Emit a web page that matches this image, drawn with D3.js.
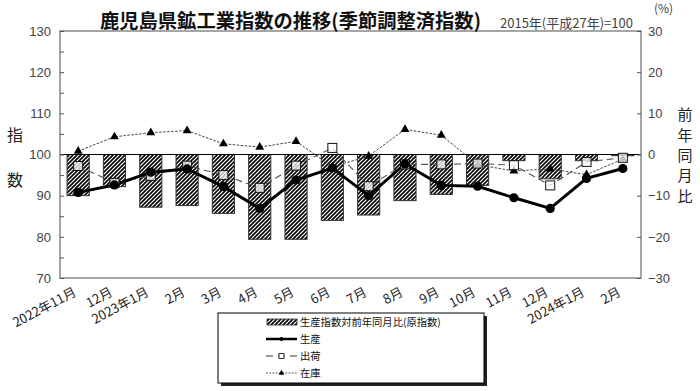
<!DOCTYPE html>
<html><head><meta charset="utf-8">
<script src="https://cdn.jsdelivr.net/npm/d3@7"></script>
<style>
body{margin:0;background:#fff;}
svg text{font-family:"Noto Sans CJK JP","Liberation Sans",sans-serif;}
</style></head>
<body><svg id="c" width="700" height="391"></svg>
<script>
const labels = ["2022年11月","12月","2023年1月","2月","3月","4月","5月","6月","7月","8月","9月","10月","11月","12月","2024年1月","2月"];
const yoy  = [-10.0,-7.8,-12.8,-12.4,-14.3,-20.6,-20.6,-16.0,-14.7,-11.2,-9.7,-7.5,-1.5,-5.9,-1.5,-0.3];
const prod = [90.8,92.6,95.7,96.5,92.2,86.9,93.8,96.7,90.0,97.7,92.5,92.3,89.5,86.9,94.2,96.6];
const ship = [97.2,93.1,94.8,97.3,95.0,91.9,97.3,101.6,92.3,97.6,97.6,97.8,97.4,92.5,98.2,99.2];
const inv  = [100.8,104.3,105.3,105.8,102.6,101.8,103.2,97.0,99.6,106.1,104.7,97.5,96.0,96.5,95.1,98.9];
const leftTicks = [70,80,90,100,110,120,130];
const rightTicks = [-30,-20,-10,0,10,20,30];
const legendNames = ["生産指数対前年同月比(原指数)","生産","出荷","在庫"];

const svg = d3.select("#c");
const L=60,R=641,T=31,B=278;
const idx = labels.map((d,i)=>i);
const x = d3.scaleBand().domain(idx).range([L,R]).paddingInner(0.39).paddingOuter(0.195);
const step = x.step();
const cx = i => L + step*(i+0.5);
const y = d3.scaleLinear().domain([70,130]).range([B,T]);
const y2 = d3.scaleLinear().domain([-30,30]).range([B,T]);

const defs = svg.append("defs");
const pat = defs.append("pattern").attr("id","hatch").attr("patternUnits","userSpaceOnUse")
  .attr("width",4).attr("height",4);
pat.append("rect").attr("width",4).attr("height",4).attr("fill","#fff");
pat.append("path").attr("d","M0,4L4,0M-1,1L1,-1M3,5L5,3").attr("stroke","#000").attr("stroke-width",1.6);

// bars
svg.append("g").selectAll("rect").data(yoy).join("rect")
  .attr("x",(d,i)=>cx(i)-x.bandwidth()/2).attr("width",x.bandwidth())
  .attr("y",d=>Math.min(y2(0),y2(d))).attr("height",d=>Math.abs(y2(d)-y2(0)))
  .attr("fill","url(#hatch)").attr("stroke","#333").attr("stroke-width",1);

// baseline 100
svg.append("line").attr("x1",L).attr("x2",R).attr("y1",y(100)).attr("y2",y(100)).attr("stroke","#000").attr("stroke-width",1.2);

// frame
svg.append("rect").attr("x",L).attr("y",T).attr("width",R-L).attr("height",B-T)
  .attr("fill","none").attr("stroke","#888").attr("stroke-width",1.5);

// left axis
const la = svg.append("g").attr("transform",`translate(${L},0)`)
  .call(d3.axisRight(y).tickValues(d3.range(70,131,5)).tickSize(4).tickFormat(""));
la.select(".domain").remove();
la.selectAll("line").attr("stroke","#555");
svg.append("g").selectAll("text").data(leftTicks).join("text")
  .attr("x",51).attr("y",d=>y(d)).attr("dy","0.36em").attr("text-anchor","end")
  .attr("font-size",13).attr("fill","#444").style("font-family","Liberation Sans, sans-serif").text(d=>d);

// right axis
const ra = svg.append("g").attr("transform",`translate(${R},0)`)
  .call(d3.axisLeft(y2).tickValues(rightTicks).tickSize(4).tickFormat(""));
ra.select(".domain").remove();
ra.selectAll("line").attr("stroke","#555");
svg.append("g").selectAll("text").data(rightTicks).join("text")
  .attr("x",648).attr("y",d=>y2(d)).attr("dy","0.36em").attr("text-anchor","start")
  .attr("font-size",13).attr("fill","#444").style("font-family","Liberation Sans, sans-serif")
  .text(d=>d<0?"\u2212"+(-d):d);

// x labels
svg.append("g").selectAll("text").data(labels).join("text")
  .attr("transform",(d,i)=>`translate(${cx(i)-1},${295}) rotate(-28)`)
  .attr("text-anchor","end").attr("font-size",13).attr("fill","#222").text(d=>d);

// lines
const line = arr => d3.line().x((d,i)=>cx(i)).y(d=>y(d))(arr);
svg.append("path").attr("d",line(inv)).attr("fill","none").attr("stroke","#444").attr("stroke-width",1).attr("stroke-dasharray","2.5,1.5");
svg.append("path").attr("d",line(ship)).attr("fill","none").attr("stroke","#555").attr("stroke-width",1.1).attr("stroke-dasharray","7,4");
svg.append("path").attr("d",line(prod)).attr("fill","none").attr("stroke","#000").attr("stroke-width",3);

const tri = d3.symbol().type(d3.symbolTriangle).size(34);
svg.append("g").selectAll("path").data(inv).join("path")
  .attr("d",tri).attr("transform",(d,i)=>`translate(${cx(i)},${y(d)})`).attr("fill","#000");
svg.append("g").selectAll("rect").data(ship).join("rect")
  .attr("x",(d,i)=>cx(i)-4.5).attr("y",d=>y(d)-4.5).attr("width",9).attr("height",9)
  .attr("fill","#fff").attr("fill-opacity",0.75).attr("stroke","#111").attr("stroke-width",1);
svg.append("g").selectAll("circle").data(prod).join("circle")
  .attr("cx",(d,i)=>cx(i)).attr("cy",d=>y(d)).attr("r",4.6).attr("fill","#000");

// title
svg.append("text").attr("x",100).attr("y",28).attr("font-size",19.3).attr("font-weight","bold").attr("fill","#111")
  .text("鹿児島県鉱工業指数の推移(季節調整済指数)");
svg.append("text").attr("x",500).attr("y",28).attr("font-size",13).attr("fill","#444").text("2015年(平成27年)=100");
svg.append("text").attr("x",654).attr("y",13).attr("font-size",12).attr("fill","#444").text("(%)");

// axis titles
svg.append("g").selectAll("text").data(["指","数"]).join("text")
  .attr("x",15).attr("y",(d,i)=>135+i*45).attr("dy","0.36em").attr("text-anchor","middle")
  .attr("font-size",16).attr("fill","#222").text(d=>d);
svg.append("g").selectAll("text").data("前年同月比".split("")).join("text")
  .attr("x",685).attr("y",(d,i)=>115+i*20.3).attr("dy","0.36em").attr("text-anchor","middle")
  .attr("font-size",15).attr("fill","#222").text(d=>d);

// legend
const lg = svg.append("g");
lg.append("rect").attr("x",221).attr("y",316).attr("width",266).attr("height",70).attr("fill","#222");
lg.append("rect").attr("x",218).attr("y",313).attr("width",266).attr("height",70).attr("fill","#fff").attr("stroke","#000").attr("stroke-width",1);
const ly = [322,339,356,373];
lg.append("rect").attr("x",267).attr("y",ly[0]-3).attr("width",30).attr("height",6).attr("fill","url(#hatch)").attr("stroke","#333").attr("stroke-width",0.8);
lg.append("line").attr("x1",266).attr("x2",297).attr("y1",ly[1]).attr("y2",ly[1]).attr("stroke","#000").attr("stroke-width",2.5);
lg.append("circle").attr("cx",281.5).attr("cy",ly[1]).attr("r",2).attr("fill","#000");
lg.append("line").attr("x1",266).attr("x2",297).attr("y1",ly[2]).attr("y2",ly[2]).attr("stroke","#333").attr("stroke-width",1).attr("stroke-dasharray","7,5");
lg.append("rect").attr("x",279).attr("y",ly[2]-2.5).attr("width",5).attr("height",5).attr("fill","#fff").attr("stroke","#000").attr("stroke-width",0.8);
lg.append("line").attr("x1",266).attr("x2",297).attr("y1",ly[3]).attr("y2",ly[3]).attr("stroke","#333").attr("stroke-width",0.8).attr("stroke-dasharray","2,1.2");
lg.append("path").attr("d",d3.symbol().type(d3.symbolTriangle).size(14)).attr("transform",`translate(281.5,${ly[3]})`).attr("fill","#000");
lg.selectAll("text.l").data(legendNames).join("text").attr("class","l")
  .attr("x",300).attr("y",(d,i)=>ly[i]).attr("dy","0.36em").attr("font-size",10.3).attr("fill","#111").text(d=>d);
</script></body></html>
